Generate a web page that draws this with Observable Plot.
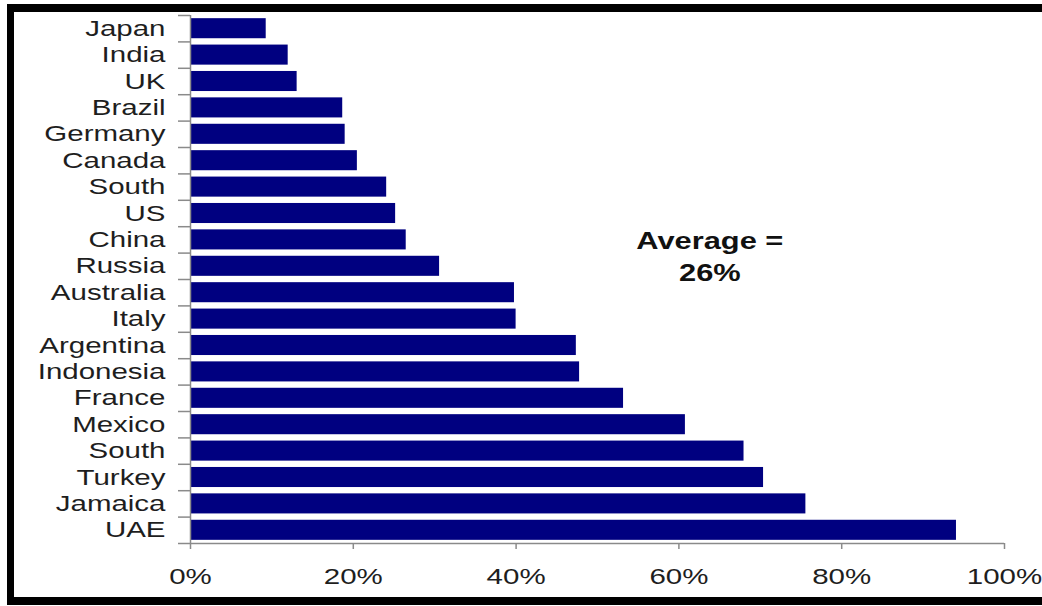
<!DOCTYPE html>
<html>
<head>
<meta charset="utf-8">
<script src="https://cdn.jsdelivr.net/npm/d3@7"></script>
<script src="https://cdn.jsdelivr.net/npm/@observablehq/plot@0.6"></script>
<style>
  html, body { margin: 0; padding: 0; background: #fff; overflow: hidden; }
  #wrap { position: relative; width: 1042px; height: 606px; }
  #border {
    position: absolute; left: 7px; top: 4px; width: 1100px; height: 601px;
    box-sizing: border-box; border: 8px solid #000; border-left-width: 7px; border-right: none;
  }
  #chart { position: absolute; left: 0; top: 0; }
</style>
</head>
<body>
<div id="wrap">
  <div id="border"></div>
  <div id="chart"></div>
</div>
<script>
// Countries, top to bottom, and their share (%)
const countries = ["Japan", "India", "UK", "Brazil", "Germany", "Canada", "South", "US", "China", "Russia",
  "Australia", "Italy", "Argentina", "Indonesia", "France", "Mexico", "South", "Turkey", "Jamaica", "UAE"];
const shares = [9.3, 12.0, 13.1, 18.7, 19.0, 20.5, 24.1, 25.2, 26.5, 30.6,
  39.8, 40.0, 47.4, 47.8, 53.2, 60.8, 68.0, 70.4, 75.6, 94.1];
const xTicks = [0, 20, 40, 60, 80, 100];
const averageNote = "Average =\n26%";
const averageRow = "China";
const averageAt = 63.8;

// Two rows share the name "South", so rows are keyed by index
const rows = countries.map((name, i) => ({key: i, name, share: shares[i]}));
const keys = rows.map(d => d.key);

const W = 1042, H = 606;
const mTop = 15, mBottom = 63, mLeft = 190, mRight = 38;
const step = (H - mTop - mBottom) / rows.length;
const axisGray = "#8a8a8a";
const textScale = 1.34; // wide lettering
const boldScale = 1.38;

const chart = Plot.plot({
  width: W,
  height: H,
  marginTop: mTop,
  marginBottom: mBottom,
  marginLeft: mLeft,
  marginRight: mRight,
  style: {fontFamily: "'Liberation Sans', Arial, sans-serif", fontSize: "22px", color: "#1e1e1e", background: "transparent"},
  x: {domain: [0, 100], label: null},
  y: {domain: keys, paddingInner: 0.24, paddingOuter: 0.12, round: false, label: null},
  marks: [
    Plot.barX(rows, {x: "share", y: "key", fill: "#000080", insetLeft: 1}),
    // vertical axis line
    Plot.ruleX([0], {stroke: axisGray, strokeWidth: 1.5}),
    // category boundary ticks
    Plot.ruleY(rows, {y: "key", x1: 0, x2: 0, insetLeft: -12, dy: -step / 2, stroke: axisGray, strokeWidth: 1.5}),
    // bottom boundary tick and horizontal axis line
    Plot.ruleY(rows.slice(-1), {y: "key", x1: 0, x2: 100, insetLeft: -12, dy: step / 2, stroke: axisGray, strokeWidth: 1.5}),
    Plot.axisY({tickSize: 0, tickPadding: 25, tickFormat: i => countries[i], label: null}),
    Plot.axisX({ticks: xTicks, tickFormat: d => d + "%", tickSize: 6, tickPadding: 19, stroke: axisGray, strokeWidth: 1.5, label: null}),
    Plot.text([averageNote], {
      x: () => averageAt,
      y: () => countries.indexOf(averageRow),
      text: d => d,
      fontWeight: "bold",
      fontSize: 23,
      lineHeight: 1.39,
      lineAnchor: "top",
      dy: -14,
      fill: "#111"
    })
  ]
});

// widen the lettering horizontally about each label's anchor point
chart.querySelectorAll("text").forEach(t => {
  let x = parseFloat(t.getAttribute("x"));
  if (!isFinite(x)) x = 0;
  const s = t.getAttribute("font-weight") === "bold" ? boldScale : textScale;
  const tr = t.getAttribute("transform") || "";
  t.setAttribute("transform", `${tr} translate(${x},0) scale(${s},1) translate(${-x},0)`.trim());
});

document.getElementById("chart").appendChild(chart);
</script>
</body>
</html>
